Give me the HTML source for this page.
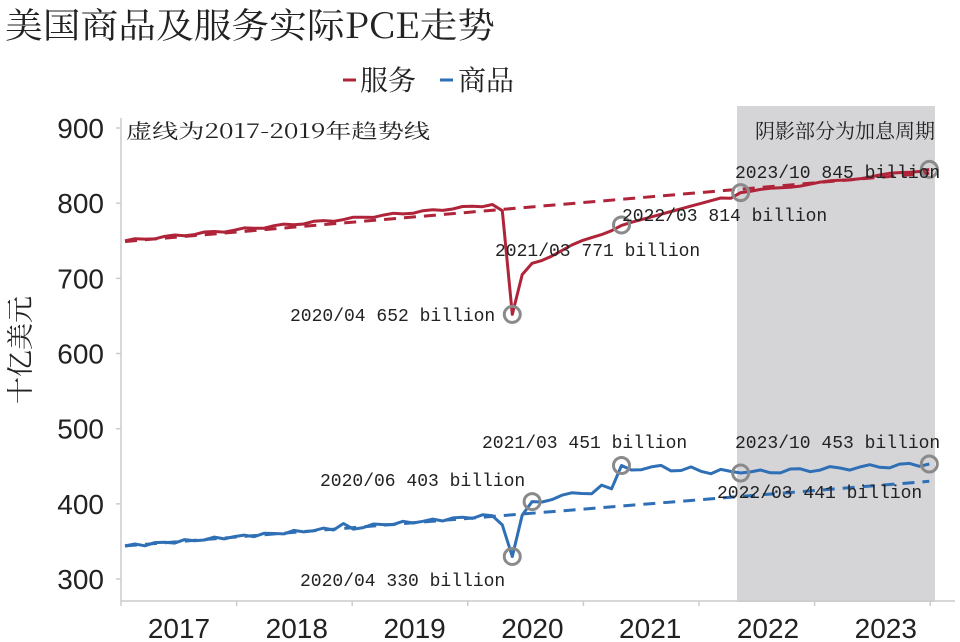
<!DOCTYPE html>
<html><head><meta charset="utf-8"><style>
body{margin:0;background:#fff;}
svg{display:block}
.m{font-family:"Liberation Mono","Noto Sans CJK SC",monospace;font-size:18px;fill:#222}
.k{font-family:"Noto Serif CJK SC",serif;fill:#222}
.ax{font-family:"Liberation Sans",sans-serif;font-size:28px;fill:#222}
</style></head><body>
<svg id="s" width="960" height="642" viewBox="0 0 960 642" xmlns="http://www.w3.org/2000/svg">
<rect x="737" y="106" width="198" height="496" fill="#d5d5d8"/>
<text x="5" y="38" class="k" font-size="35" textLength="490" lengthAdjust="spacingAndGlyphs">美国商品及服务实际PCE走势</text>
<line x1="343" y1="80" x2="356" y2="80" stroke="#b0243a" stroke-width="3"/>
<text x="360" y="90" class="k" font-size="28">服务</text>
<line x1="440" y1="80" x2="453" y2="80" stroke="#2f6fb5" stroke-width="3"/>
<text x="458" y="90" class="k" font-size="28">商品</text>
<text x="126" y="138" class="k" font-size="20" textLength="304" lengthAdjust="spacingAndGlyphs">虚线为2017-2019年趋势线</text>
<text x="935" y="138" text-anchor="end" class="k" font-size="20">阴影部分为加息周期</text>
<text transform="translate(30,350) rotate(-90)" text-anchor="middle" class="k" font-size="27">十亿美元</text>
<g id="axes" stroke="#ccc" stroke-width="1.5"></g>
<g id="lab"></g>
<g id="series"></g>
<g class="m">
<text x="290" y="321">2020/04 652 billion</text>
<text x="495" y="256">2021/03 771 billion</text>
<text x="622" y="221">2022/03 814 billion</text>
<text x="735" y="178">2023/10 845 billion</text>
<text x="482" y="448">2021/03 451 billion</text>
<text x="320" y="486">2020/06 403 billion</text>
<text x="735" y="448">2023/10 453 billion</text>
<text x="717" y="498">2022/03 441 billion</text>
<text x="300" y="586">2020/04 330 billion</text>
</g>
</svg>
<script>
var NS="http://www.w3.org/2000/svg",s=document.getElementById('s');
function Y(v){return 128+(900-v)*0.7517}
function X(t){return 125+t*9.93}
function el(p,tag,a,txt){var e=document.createElementNS(NS,tag);for(var k in a)e.setAttribute(k,a[k]);if(txt)e.textContent=txt;p.appendChild(e);return e}
var ax=document.getElementById('axes'),lab=document.getElementById('lab');
el(ax,'line',{x1:121,y1:118,x2:121,y2:601});
el(ax,'line',{x1:121,y1:601,x2:955,y2:601});
[900,800,700,600,500,400,300].forEach(function(v){var y=Y(v);el(ax,'line',{x1:116,y1:y,x2:121,y2:y});el(lab,'text',{x:104,y:y+10,'text-anchor':'end','class':'ax'},String(v));});
for(var i=0;i<8;i++){var x=121+115.6*i;el(ax,'line',{x1:x,y1:601,x2:x,y2:606});}
[2017,2018,2019,2020,2021,2022,2023].forEach(function(y,i){el(lab,'text',{x:179+117.8*i,y:638,'text-anchor':'middle','class':'ax'},String(y));});
var sv=[],gd=[];
for(var t=0;t<=81;t++){
 var a,b;
 if(t<=37){a=750+t*1.3+Math.sin(t*1.7)*1.5;b=344+t*1.1+Math.sin(t*2.3)*2;if(t==22)b+=5;if(t==23)b-=4;}
 else if(t==38){a=790;b=372;}
 else if(t==39){a=652;b=330;}
 else if(t==40){a=705;b=385;}
 else if(t==41){a=720;b=403;}
 else if(t<=50){var f=(t-41)/9;a=720+f*51+Math.sin(t)*2;b=403+f*20+Math.sin(t*1.3)*3;if(t==48)b=425;if(t==49)b=420;if(t==50)b=451;}
 else if(t<=62){var f=(t-50)/12;a=771+f*43-(t==61?4:0);b=451-f*10+Math.sin(t*1.9)*4;if(t==51)b=445;}
 else {var f=(t-62)/19;a=814+f*31+Math.sin(t)*1.2;b=441+f*12+Math.sin(t*1.7)*3;}
 if(t==81){a=845;b=453;}if(t==62){a=814;b=441;}
 sv.push(X(t).toFixed(1)+','+Y(a).toFixed(1));gd.push(X(t).toFixed(1)+','+Y(b).toFixed(1));
}
var g=document.getElementById('series');
el(g,'line',{x1:X(0),y1:Y(749),x2:X(81),y2:Y(840),stroke:'#b0243a','stroke-width':3,'stroke-dasharray':'12,8'});
el(g,'line',{x1:X(0),y1:Y(344),x2:X(81),y2:Y(430),stroke:'#2f6fb5','stroke-width':3,'stroke-dasharray':'12,8'});
el(g,'polyline',{points:sv.join(' '),fill:'none',stroke:'#b0243a','stroke-width':3,'stroke-linejoin':'round'});
el(g,'polyline',{points:gd.join(' '),fill:'none',stroke:'#2f6fb5','stroke-width':3,'stroke-linejoin':'round'});
[[39,652],[50,771],[62,814],[81,845],[39,330],[41,403],[50,451],[62,441],[81,453]].forEach(function(p){el(g,'circle',{cx:X(p[0]),cy:Y(p[1]),r:8,fill:'none',stroke:'#8a8a8a','stroke-width':3});});
</script>
</body></html>
